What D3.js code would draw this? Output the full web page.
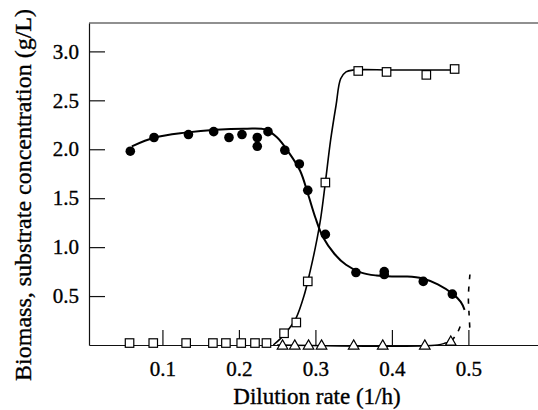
<!DOCTYPE html>
<html lang="en">
<head>
<meta charset="UTF-8">
<title>Biomass and substrate vs dilution rate</title>
<script src="https://cdn.jsdelivr.net/npm/d3@7/dist/d3.min.js"></script>
<style>
    body { margin: 0; background: #fff; }
    svg { display: block; font-family: "Liberation Serif", "Times New Roman", Times, serif; }
    svg text { fill: #000; stroke: #000; stroke-width: 0.35px; }
    .axis path, .axis line { stroke: #111; stroke-width: 1.2; }
</style>
</head>
<body>
<script>
    // measured points: biomass (filled circles)
    var biomassD = [0.058, 0.089, 0.134, 0.167, 0.187, 0.204, 0.224, 0.224, 0.238, 0.26, 0.279, 0.29, 0.313, 0.353, 0.39, 0.39, 0.441, 0.479];
    var biomassX = [1.98, 2.12, 2.15, 2.18, 2.12, 2.15, 2.12, 2.03, 2.18, 1.99, 1.85, 1.58, 1.13, 0.74, 0.75, 0.72, 0.65, 0.52];

    // substrate (open squares)
    var substrateD = [0.057, 0.088, 0.131, 0.166, 0.183, 0.203, 0.221, 0.236, 0.259, 0.275, 0.29, 0.313, 0.356, 0.393, 0.445, 0.482];
    var substrateS = [0.02, 0.02, 0.02, 0.02, 0.02, 0.02, 0.02, 0.02, 0.12, 0.23, 0.65, 1.66, 2.80, 2.79, 2.76, 2.82];

    // product (open triangles)
    var productD = [0.257, 0.273, 0.291, 0.308, 0.35, 0.388, 0.443, 0.477];
    var productP = [0, 0, 0, 0, 0, 0, 0, 0.04];

    // fitted curves [D, value]
    var biomassFit = [[0.06, 2.03], [0.09, 2.12], [0.13, 2.17], [0.17, 2.2], [0.21, 2.21], [0.235, 2.2],
        [0.25, 2.12], [0.265, 1.97], [0.28, 1.78], [0.29, 1.55], [0.30, 1.3], [0.31, 1.1], [0.325, 0.93],
        [0.34, 0.82], [0.36, 0.74], [0.38, 0.71], [0.40, 0.70], [0.42, 0.70], [0.44, 0.68], [0.46, 0.62],
        [0.48, 0.52], [0.49, 0.44], [0.495, 0.36]];
    var substrateFit = [[0.245, 0.0], [0.255, 0.07], [0.265, 0.16], [0.275, 0.28], [0.285, 0.5], [0.293, 0.75],
        [0.30, 1.0], [0.307, 1.3], [0.313, 1.66], [0.32, 2.1], [0.327, 2.45], [0.333, 2.72], [0.34, 2.79],
        [0.35, 2.81], [0.40, 2.81], [0.48, 2.81]];
    var productFit = [[0.25, 0], [0.46, 0], [0.47, 0.02], [0.478, 0.04]];
    var productDash = [[0.478, 0.04], [0.486, 0.13], [0.492, 0.25]];
    var washoutDash = [[0.502, 0.72], [0.5, 0.5], [0.501, 0.3], [0.502, 0.15]];

    var xTicks = [0.1, 0.2, 0.3, 0.4, 0.5];
    var yTicks = [0.5, 1.0, 1.5, 2.0, 2.5, 3.0];

    var W = 538, H = 410;
    var svg = d3.select("body").append("svg").attr("width", W).attr("height", H);

    var x = d3.scaleLinear().domain([0.004, 0.591]).range([89, 538]);
    var y = d3.scaleLinear().domain([0, 3.29]).range([345, 23]);

    var fmt = d3.format(".1f");

    var gx = svg.append("g").attr("class", "axis")
        .attr("transform", "translate(0," + y(0) + ")")
        .call(d3.axisBottom(x).tickValues(xTicks).tickFormat(fmt).tickSizeInner(-15).tickSizeOuter(0).tickPadding(16));

    var gy = svg.append("g").attr("class", "axis")
        .attr("transform", "translate(" + x.range()[0] + ",0)")
        .call(d3.axisLeft(y).tickValues(yTicks).tickFormat(fmt).tickSizeInner(-16).tickSizeOuter(0).tickPadding(10));

    [gx, gy].forEach(function (g) {
        g.attr("font-family", null).attr("font-size", null);
        g.selectAll("text")
            .style("font-family", "'Liberation Serif', 'Times New Roman', serif")
            .style("font-size", "21px")
            .attr("fill", "#000");
    });

    // top frame line
    svg.append("line")
        .attr("x1", x.range()[0]).attr("x2", x.range()[1])
        .attr("y1", y.range()[1]).attr("y2", y.range()[1])
        .attr("stroke", "#222").attr("stroke-width", 1.2);

    var line = d3.line().x(d => x(d[0])).y(d => y(d[1])).curve(d3.curveCatmullRom.alpha(0.5));

    svg.append("path").attr("d", line(biomassFit))
        .attr("fill", "none").attr("stroke", "#000").attr("stroke-width", 2);
    svg.append("path").attr("d", line(substrateFit))
        .attr("fill", "none").attr("stroke", "#000").attr("stroke-width", 1.6);
    svg.append("path").attr("d", line(productFit))
        .attr("fill", "none").attr("stroke", "#000").attr("stroke-width", 1.4);
    [productDash, washoutDash].forEach(function (pts) {
        svg.append("path").attr("d", line(pts))
            .attr("fill", "none").attr("stroke", "#000").attr("stroke-width", 1.6)
            .attr("stroke-dasharray", "5,7");
    });

    // markers
    var sq = 8.5;
    svg.selectAll("rect.sub")
        .data(substrateD.map((d, i) => [d, substrateS[i]]))
        .enter().append("rect").attr("class", "sub")
        .attr("x", d => x(d[0]) - sq / 2).attr("y", d => y(d[1]) - sq / 2)
        .attr("width", sq).attr("height", sq)
        .attr("fill", "#fff").attr("stroke", "#000").attr("stroke-width", 1.2);

    var tri = d3.symbol().type(d3.symbolTriangle).size(48);
    svg.selectAll("path.prod")
        .data(productD.map((d, i) => [d, productP[i]]))
        .enter().append("path").attr("class", "prod")
        .attr("d", tri)
        .attr("transform", d => "translate(" + x(d[0]) + "," + (y(d[1]) + 1) + ")")
        .attr("fill", "#fff").attr("stroke", "#000").attr("stroke-width", 1.2);

    svg.selectAll("circle.bio")
        .data(biomassD.map((d, i) => [d, biomassX[i]]))
        .enter().append("circle").attr("class", "bio")
        .attr("cx", d => x(d[0])).attr("cy", d => y(d[1])).attr("r", 4.8)
        .attr("fill", "#000");

    // axis titles
    svg.append("text")
        .attr("x", 317).attr("y", 404)
        .attr("text-anchor", "middle")
        .style("font-size", "23px")
        .text("Dilution rate (1/h)");

    svg.append("text")
        .attr("transform", "translate(31,195) rotate(-90)")
        .attr("text-anchor", "middle")
        .style("font-size", "24px")
        .text("Biomass, substrate concentration (g/L)");
</script>
</body>
</html>
